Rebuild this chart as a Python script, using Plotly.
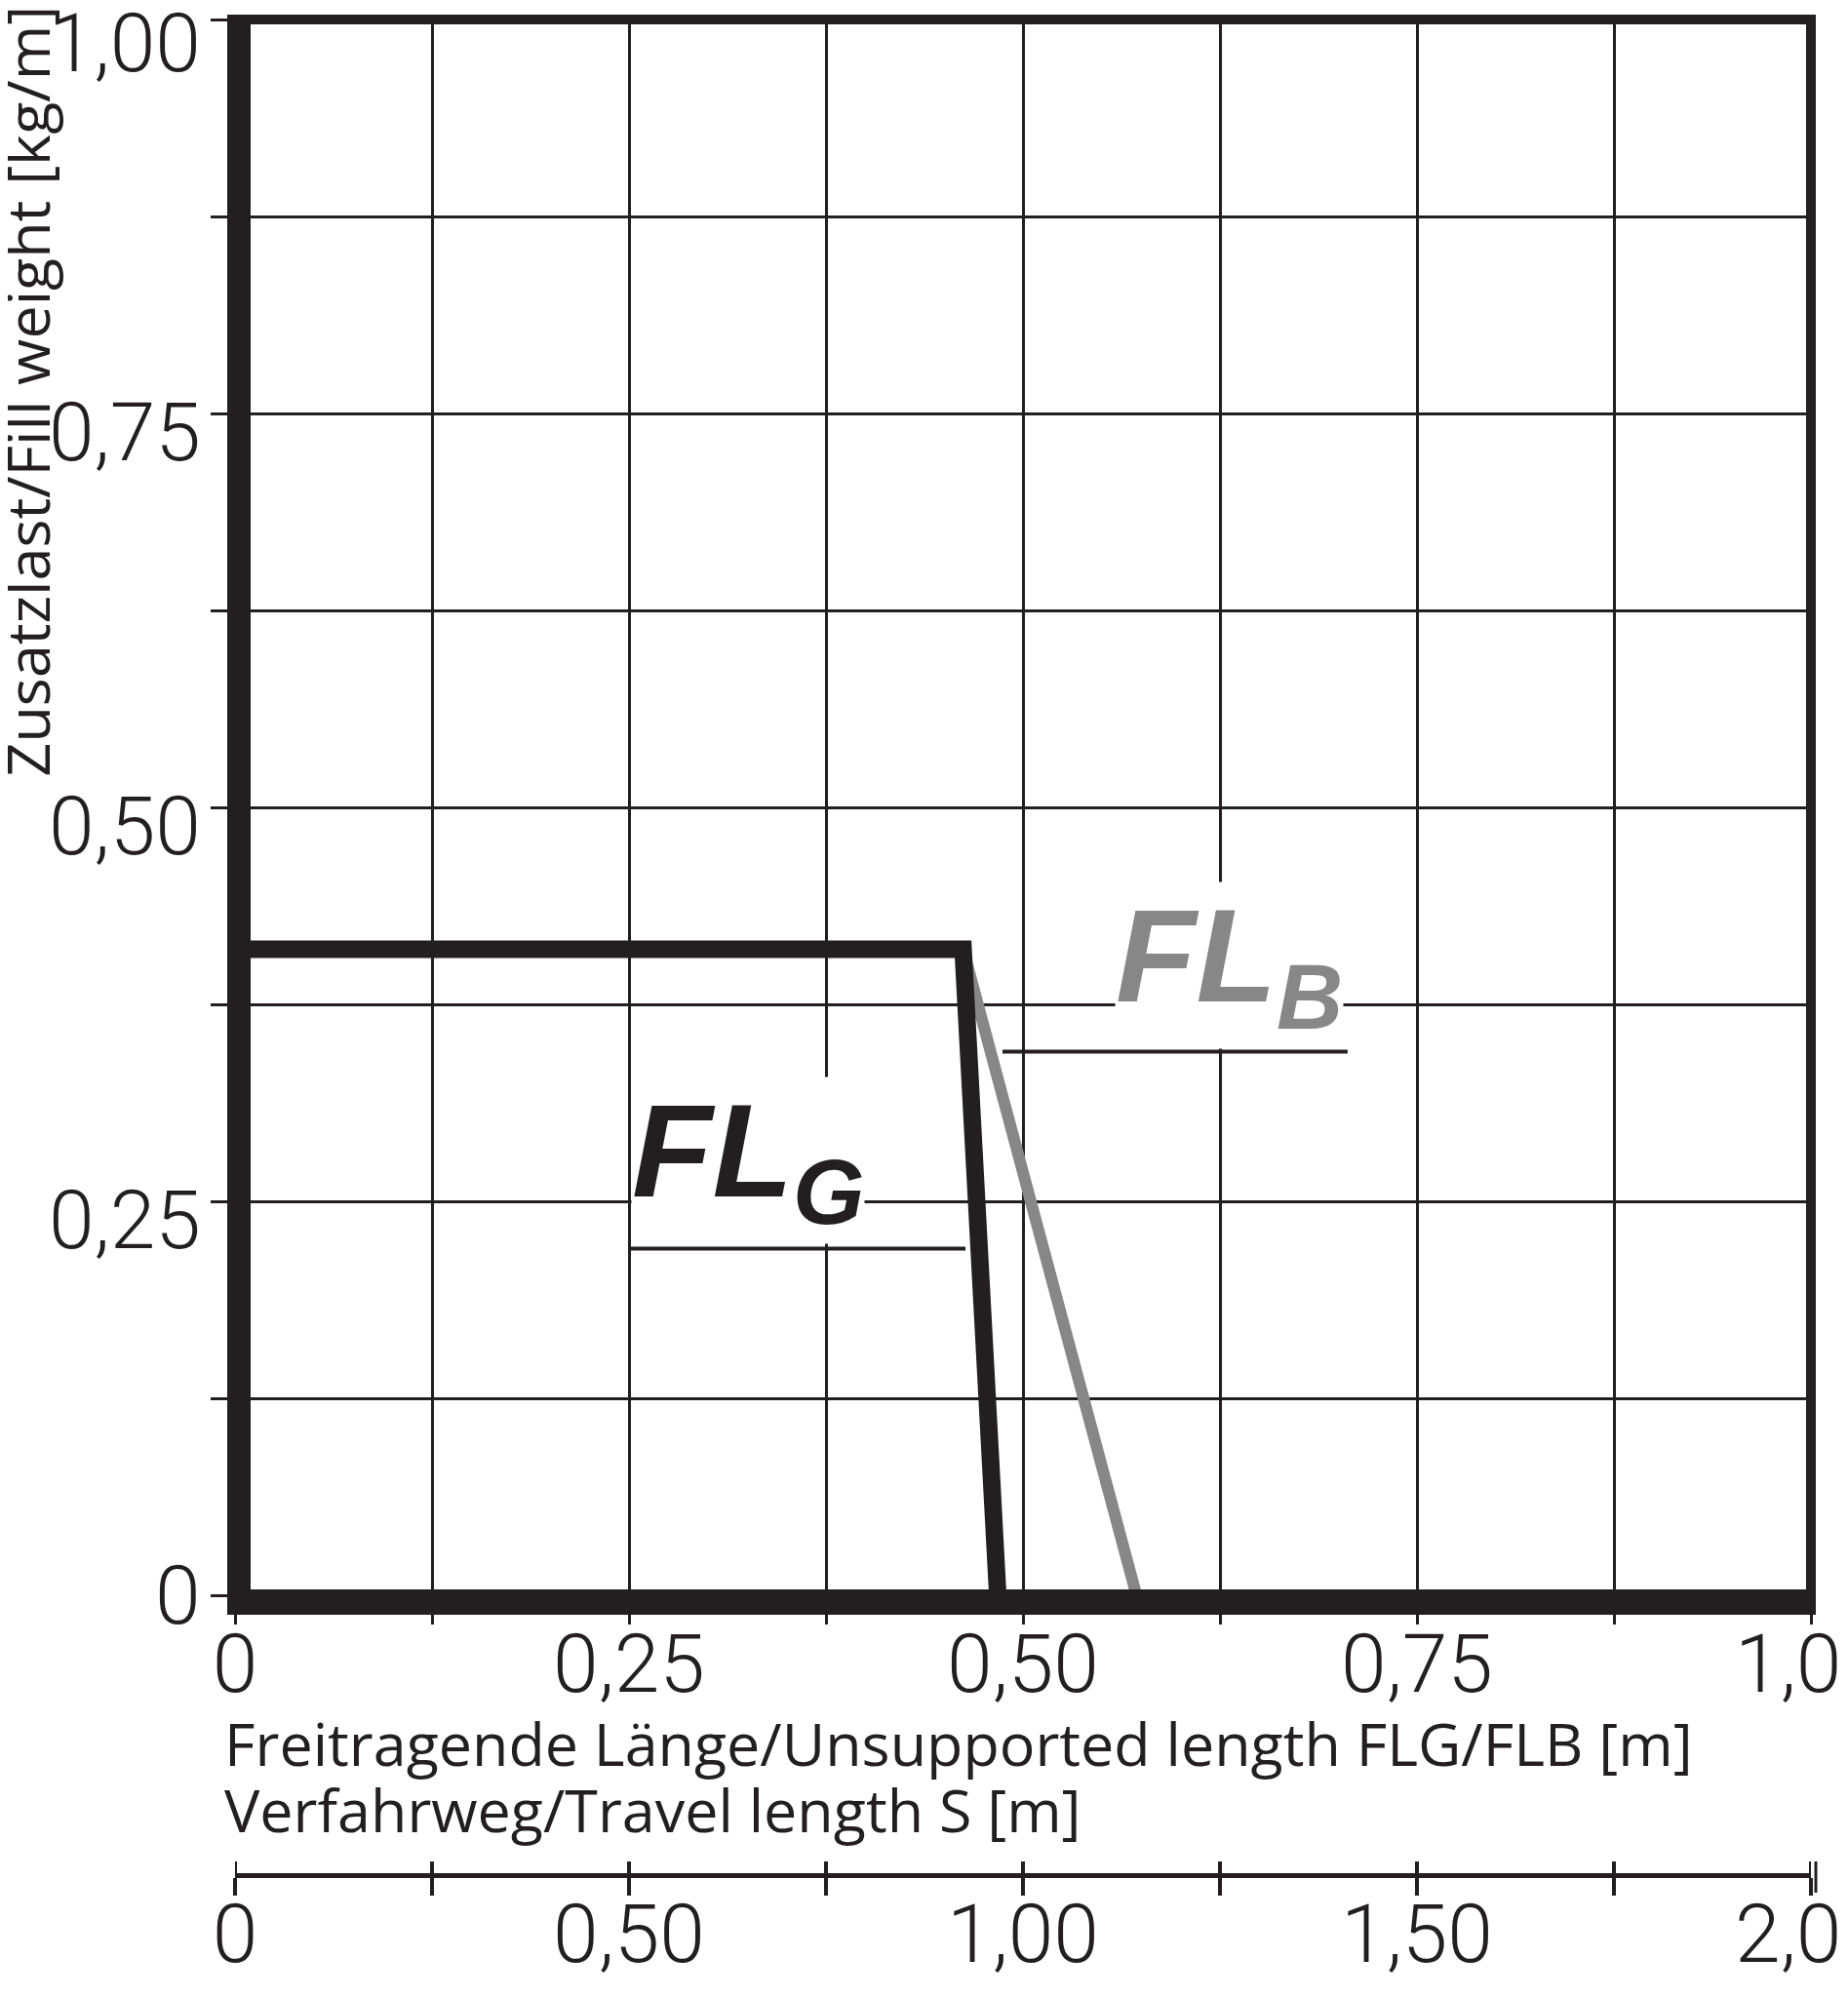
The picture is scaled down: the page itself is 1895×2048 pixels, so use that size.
import plotly.graph_objects as go

# data
fl_g_x = [0, 0.462, 0.484]
fl_g_y = [0.41, 0.41, 0]
fl_b_x = [0, 0.462, 0.572]
fl_b_y = [0.41, 0.41, 0]

x_ticks = [0, 0.125, 0.25, 0.375, 0.5, 0.625, 0.75, 0.875, 1.0]
x_labels = ["0", "", "0,25", "", "0,50", "", "0,75", "", "1,00"]
y_ticks = [0, 0.125, 0.25, 0.375, 0.5, 0.625, 0.75, 0.875, 1.0]
y_labels = ["0", "", "0,25", "", "0,50", "", "0,75", "", "1,00"]
s_ticks = [0, 0.25, 0.5, 0.75, 1.0, 1.25, 1.5, 1.75, 2.0]
s_labels = ["0", "", "0,50", "", "1,00", "", "1,50", "", "2,00"]

dark = "#231f20"
grey = "#878787"
tickfont = dict(family="Roboto, Liberation Sans", size=84, color=dark, weight=300)
titlefont = "Open Sans, Lato"

W, H = 1895, 2048
OFF = 8  # page body margin
L, T = 241 - OFF, 20 - OFF
R = W - L - 1616
B = H - (1948 - OFF)
PW, PH = W - L - R, H - T - B
ydom0 = (1948 - 1636) / PH


def px(p):  # reference pixel x -> paper x
    return (p - OFF - L) / PW


def py(p):  # reference pixel y -> paper y
    return (H - B - (p - OFF)) / PH


fig = go.Figure()
fig.add_scatter(x=fl_b_x, y=fl_b_y, mode="lines", line=dict(color=grey, width=12),
                hoverinfo="skip", showlegend=False)
fig.add_scatter(x=fl_g_x, y=fl_g_y, mode="lines", line=dict(color=dark, width=18),
                hoverinfo="skip", showlegend=False)
# helper so the travel length axis is drawn
fig.add_scatter(x=[s_ticks[0], s_ticks[-1]], y=[0, 0], xaxis="x2", yaxis="y", mode="lines",
                line=dict(width=0), hoverinfo="skip", showlegend=False)

axis_common = dict(showgrid=True, gridcolor=dark, gridwidth=3, zeroline=False, showline=False,
                   ticks="outside", tickcolor=dark, tickwidth=3, tickfont=tickfont,
                   tickmode="array", automargin=False, ticklabeloverflow="allow")

fig.update_layout(
    width=W, height=H,
    margin=dict(l=L, r=R, t=T, b=B, autoexpand=False),
    paper_bgcolor="white", plot_bgcolor="white",
    showlegend=False,
    xaxis=dict(range=[0, 1], tickvals=x_ticks, ticktext=x_labels, ticklen=29, domain=[0, 1],
               ticklabelstandoff=-32, **axis_common),
    yaxis=dict(range=[0, 1], tickvals=y_ticks, ticktext=y_labels, ticklen=24,
               domain=[ydom0, 1], showticklabels=False, **axis_common),
    xaxis2=dict(range=[0, 2], tickvals=s_ticks, ticktext=s_labels, overlaying="x",
                anchor="free", position=py(1923), showline=True, linecolor=dark, linewidth=5,
                ticks="outside", ticklen=18, tickwidth=4, tickcolor=dark, tickfont=tickfont,
                showgrid=False, zeroline=False, tickmode="array", automargin=False,
                ticklabeloverflow="allow", ticklabelstandoff=-33),
)

shapes = []
# chart frame
shapes.append(dict(type="line", xref="paper", yref="paper", x0=px(245), x1=px(245),
                   y0=py(1656), y1=py(15), line=dict(color=dark, width=24)))
shapes.append(dict(type="line", xref="paper", yref="paper", x0=px(233), x1=px(1862),
                   y0=py(20), y1=py(20), line=dict(color=dark, width=10)))
shapes.append(dict(type="line", xref="paper", yref="paper", x0=px(1857), x1=px(1857),
                   y0=py(1656), y1=py(15), line=dict(color=dark, width=10)))
shapes.append(dict(type="line", xref="paper", yref="paper", x0=px(233), x1=px(1862),
                   y0=py(1643), y1=py(1643), line=dict(color=dark, width=26)))
# upper half of the travel length ticks
for v in s_ticks:
    shapes.append(dict(type="line", xref="x2", yref="paper", x0=v, x1=v,
                       y0=py(1923), y1=py(1909), line=dict(color=dark, width=4)))
# second closing tick at the end of the travel length axis
shapes.append(dict(type="line", xref="paper", yref="paper", x0=px(1862), x1=px(1862),
                   y0=py(1941), y1=py(1909), line=dict(color=dark, width=3)))
# label underlines
shapes.append(dict(type="line", xref="x", yref="y", x0=0.251, x1=0.4635, y0=0.220, y1=0.220,
                   line=dict(color=dark, width=4)))
shapes.append(dict(type="line", xref="x", yref="y", x0=0.487, x1=0.706, y0=0.345, y1=0.345,
                   line=dict(color=dark, width=4)))
fig.update_layout(shapes=shapes)

# y tick labels sit a little below their ticks in the original
for v, lab in zip(y_ticks, y_labels):
    if not lab:
        continue
    shift = 0 if v == 0 else (-24 if v == 1 else -19)
    fig.add_annotation(x=0, y=v, xref="paper", yref="y", text=lab, showarrow=False,
                       xanchor="right", yanchor="middle", xshift=-33, yshift=shift,
                       font=tickfont)

labfont = dict(family="Liberation Sans, Arial", size=135, weight="bold", style="italic")
fig.add_annotation(x=0.251, y=0.220, xref="x", yref="y", text="FL<sub>G</sub>",
                   showarrow=False, xanchor="left", yanchor="bottom", bgcolor="white",
                   borderpad=0, yshift=4, font=dict(color=dark, **labfont))
fig.add_annotation(x=0.558, y=0.345, xref="x", yref="y", text="FL<sub>B</sub>",
                   showarrow=False, xanchor="left", yanchor="bottom", bgcolor="white",
                   borderpad=0, yshift=2, font=dict(color=grey, **labfont))

fig.add_annotation(x=px(27), y=py(4), xref="paper", yref="paper",
                   text="Zusatzlast/Fill weight [kg/m]", textangle=-90, showarrow=False,
                   xanchor="center", yanchor="top",
                   font=dict(family=titlefont, size=61, color=dark))
fig.add_annotation(x=px(228), y=py(1744), xref="paper", yref="paper",
                   text="Freitragende Länge/Unsupported length FLG/FLB [m]", showarrow=False,
                   xanchor="left", yanchor="top", font=dict(family=titlefont, size=61, color=dark))
fig.add_annotation(x=px(228), y=py(1812), xref="paper", yref="paper",
                   text="Verfahrweg/Travel length S [m]", showarrow=False,
                   xanchor="left", yanchor="top", font=dict(family=titlefont, size=61, color=dark))

fig.write_html("out.html")
